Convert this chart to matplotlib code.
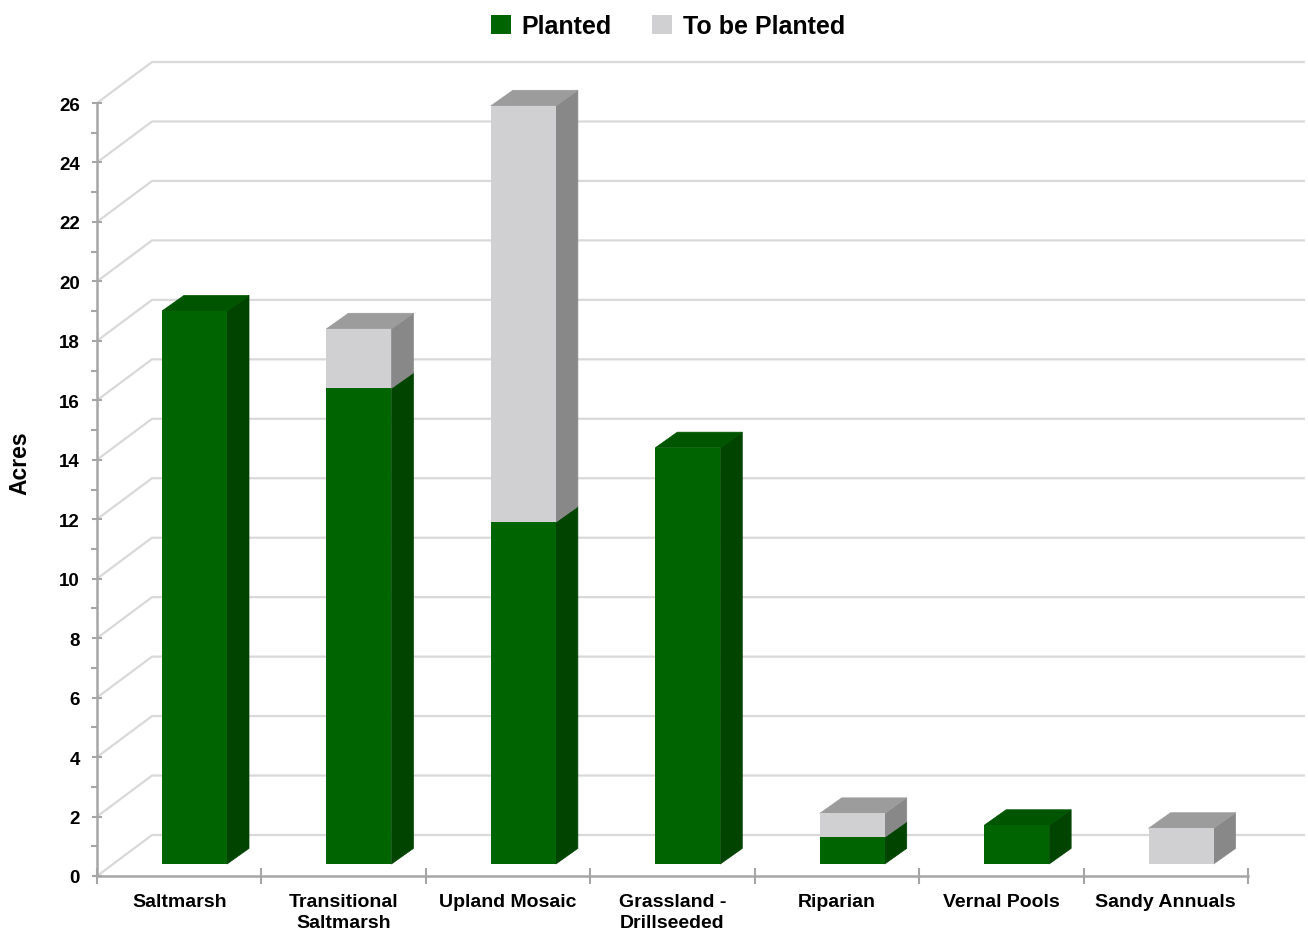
import matplotlib
matplotlib.use("Agg")
import matplotlib.pyplot as plt
from matplotlib.patches import Polygon, Patch
import numpy as np

plt.rcParams['font.family'] = ['Liberation Sans', 'DejaVu Sans']
plt.rcParams['font.weight'] = 'bold'

# data (acres)
categories = ["Saltmarsh", "Transitional\nSaltmarsh", "Upland Mosaic", "Grassland -\nDrillseeded",
              "Riparian", "Vernal Pools", "Sandy Annuals"]
planted = [18.6, 16.0, 11.5, 14.0, 0.9, 1.3, 0.0]
to_be_planted = [0.0, 2.0, 14.0, 0.0, 0.8, 0.0, 1.2]
y_ticks = list(range(0, 27, 2))

# colours: front, side, top
green = ("#006400", "#004400", "#005500")
grey = ("#d0d0d2", "#888888", "#9c9c9c")

W, H = 1308, 937
fig = plt.figure(figsize=(W / 100, H / 100), dpi=100)
px_x = 1151 / 7          # pixels per category
px_y = 29.73             # pixels per acre
ymax = 27.9
xmin, xmax = -0.5, -0.5 + (1305 - 97) / px_x
ax = fig.add_axes([97 / W, (H - 877) / H, (1305 - 97) / W, ymax * px_y / H])
ax.set_xlim(xmin, xmax)
ax.set_ylim(0, ymax)

# pseudo-3d offsets (data units)
wall_dx, wall_dy = 55 / px_x, 41 / px_y
face_dy = 12 / px_y
bar_w = 65 / px_x
dep_dx, dep_dy = 22 / px_x, 15.6 / px_y

# back wall gridlines
for v in y_ticks:
    ax.plot([xmin, xmin + wall_dx, xmax], [v, v + wall_dy, v + wall_dy],
            color="#d9d9d9", lw=1.6, zorder=1, solid_capstyle="butt")

x = np.arange(len(categories))
xl = x + 0.093 - bar_w / 2

ax.bar(xl, planted, width=bar_w, bottom=face_dy, align="edge",
       color=green[0], lw=0, zorder=3)
ax.bar(xl, to_be_planted, width=bar_w, bottom=face_dy + np.array(planted), align="edge",
       color=grey[0], lw=0, zorder=3)


def side(x0, y0, h, col):
    x1 = x0 + bar_w
    ax.add_patch(Polygon([(x1, y0), (x1 + dep_dx, y0 + dep_dy),
                          (x1 + dep_dx, y0 + h + dep_dy), (x1, y0 + h)],
                         closed=True, fc=col, ec=col, lw=0.5, zorder=2.5))


def top(x0, y0, col):
    ax.add_patch(Polygon([(x0, y0), (x0 + dep_dx, y0 + dep_dy),
                          (x0 + bar_w + dep_dx, y0 + dep_dy), (x0 + bar_w, y0)],
                         closed=True, fc=col, ec=col, lw=0.5, zorder=2.5))


for i in range(len(categories)):
    p, t = planted[i], to_be_planted[i]
    if p > 0:
        side(xl[i], face_dy, p, green[1])
    if t > 0:
        side(xl[i], face_dy + p, t, grey[1])
        top(xl[i], face_dy + p + t, grey[2])
    else:
        top(xl[i], face_dy + p, green[2])

# axes styling
for s in ["top", "right"]:
    ax.spines[s].set_visible(False)
for s in ["left", "bottom"]:
    ax.spines[s].set_color("#a6a6a6")
    ax.spines[s].set_linewidth(1.8)
ax.spines["left"].set_bounds(0, 26)
ax.spines["bottom"].set_bounds(-0.5, 6.5)

ax.set_yticks(y_ticks)
ax.set_yticks(range(1, 26, 2), minor=True)
ax.tick_params(axis="y", which="major", direction="inout", length=7, width=1.5,
               color="#a6a6a6", labelsize=13.5, pad=9)
ax.tick_params(axis="y", which="minor", direction="out", length=4, width=1.5, color="#a6a6a6")
ax.set_xticks(x)
ax.set_xticklabels(categories, fontsize=14, linespacing=1.3)
ax.set_xticks(np.arange(-0.5, 7, 1), minor=True)
ax.tick_params(axis="x", which="major", length=0, pad=12)
ax.tick_params(axis="x", which="minor", direction="inout", length=12, width=1.5, color="#a6a6a6")

fig.text(20 / W, 1 - 463 / H, "Acres", rotation=90, ha="center", va="center", fontsize=16.5)

handles = [Patch(fc=green[0], label="Planted"), Patch(fc=grey[0], label="To be Planted")]
fig.legend(handles=handles, loc="upper center", bbox_to_anchor=(668 / W, 1.008), ncol=2,
           frameon=False, fontsize=18, handlelength=0.8, handleheight=0.8,
           handletextpad=0.45, columnspacing=1.6)

fig.savefig("out.png", dpi=100)
